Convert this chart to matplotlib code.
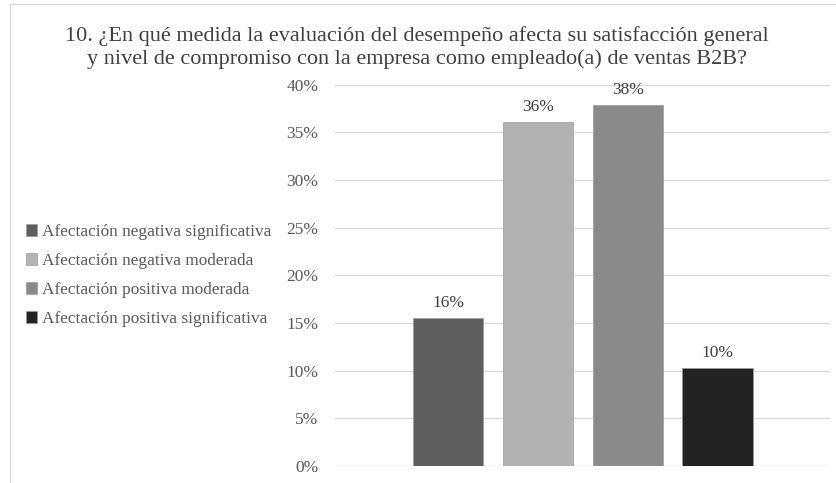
import matplotlib
matplotlib.use("Agg")
import matplotlib.pyplot as plt
from matplotlib.patches import Rectangle

categories = ["Afectación negativa significativa", "Afectación negativa moderada",
              "Afectación positiva moderada", "Afectación positiva significativa"]
values = [0.155, 0.361, 0.379, 0.103]
labels = ["16%", "36%", "38%", "10%"]
colors = ["#5e5e5e", "#b2b2b2", "#8a8a8a", "#222222"]
yticks = [0, 0.05, 0.10, 0.15, 0.20, 0.25, 0.30, 0.35, 0.40]
yticklabels = ["0%", "5%", "10%", "15%", "20%", "25%", "30%", "35%", "40%"]
title = ("10. ¿En qué medida la evaluación del desempeño afecta su satisfacción general\n"
         "y nivel de compromiso con la empresa como empleado(a) de ventas B2B?")

plt.rcParams['font.family'] = ['Liberation Serif', 'DejaVu Serif']
txtc = "#595959"

fig = plt.figure(figsize=(8.36, 4.83), dpi=100)
ax = fig.add_axes([335/836, 1-466/483, 495/836, (466-84.7)/483])

x = list(range(len(values)))
for xi, v, c, cat, lab in zip(x, values, colors, categories, labels):
    ax.bar(xi, v, width=0.785, color=c, edgecolor="#9a9a9a", linewidth=0.5, label=cat, zorder=3)
    ax.annotate(lab, (xi, v), xytext=(0, 5), textcoords="offset points",
                ha="center", va="bottom", fontsize=12.5, color="#404040")

ax.set_xlim(-1.26, 4.25)
ax.set_ylim(0, 0.40)
ax.set_yticks(yticks)
ax.set_yticklabels(yticklabels, fontsize=12.5, color=txtc)
ax.set_xticks([])
ax.tick_params(axis="y", length=0, pad=12)
ax.grid(axis="y", color="#d9d9d9", linewidth=1, zorder=0)
for s in ax.spines.values():
    s.set_visible(False)

fig.text(417/836, 1-48/483, title, ha="center", va="center", fontsize=16, color="#404040",
         linespacing=1.22)

leg = fig.legend(loc="center left", bbox_to_anchor=(26/836, 1-275.5/483), frameon=False,
                 fontsize=12.4, handlelength=0.65, handleheight=0.65, handletextpad=0.25,
                 labelspacing=0.75, borderpad=0, borderaxespad=0)
for t in leg.get_texts():
    t.set_color(txtc)

fig.patches.append(Rectangle((10/836, -0.1), 1.0, 1.1 - 4/483, transform=fig.transFigure,
                             fill=False, edgecolor="#d9d9d9", linewidth=1))

fig.savefig("out.png", dpi=100)
